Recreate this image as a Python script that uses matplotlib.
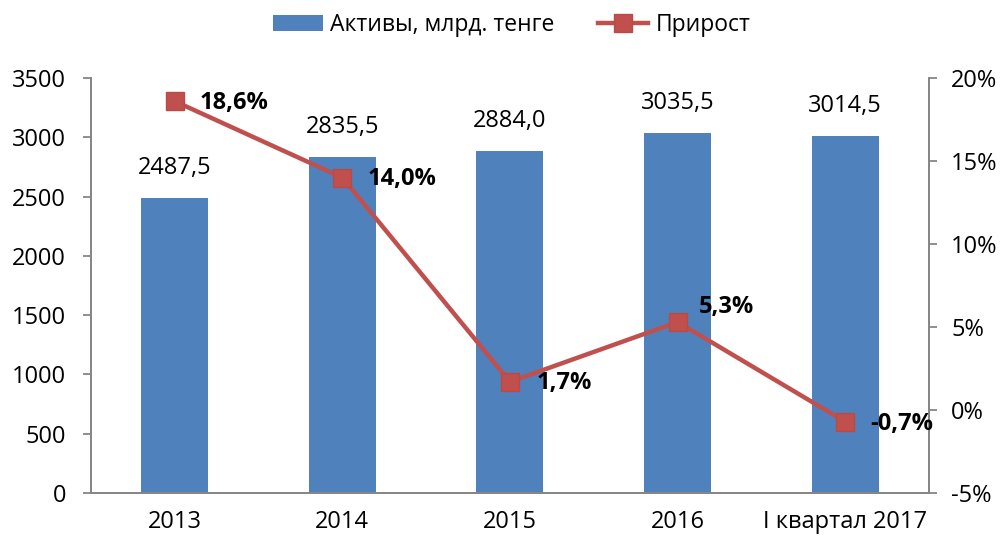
import numpy as np
import matplotlib.pyplot as plt
from matplotlib.ticker import FuncFormatter

categories = ['2013', '2014', '2015', '2016', 'I квартал 2017']
assets = [2487.5, 2835.5, 2884.0, 3035.5, 3014.5]
growth = [18.6, 14.0, 1.7, 5.3, -0.7]

bar_color = '#4F81BD'
line_color = '#C0504D'
axis_gray = '#868686'

plt.rcParams['font.family'] = ['Open Sans', 'DejaVu Sans']
plt.rcParams['font.size'] = 17

fig = plt.figure(figsize=(10.03, 5.38), dpi=100)
ax = fig.add_axes([0.0907, 0.0836, 0.8355, 0.7714])
ax2 = ax.twinx()

x = np.arange(len(categories))
bars = ax.bar(x, assets, width=0.4, color=bar_color, label='Активы, млрд. тенге', zorder=2)
ax.set_xlim(-0.5, len(categories) - 0.5)
ax.set_ylim(0, 3500)
ax.set_yticks(np.arange(0, 3501, 500))
ax.set_xticks(x)
ax.set_xticklabels(categories)

# bar value labels
for xi, v in zip(x, assets):
    ax.annotate(f"{v:.1f}".replace('.', ','), (xi, v), xytext=(0, 13),
                textcoords='offset points', ha='center', va='bottom', fontsize=17)

line, = ax2.plot(x, growth, color=line_color, lw=3.2, marker='s', markersize=13,
                 markerfacecolor=line_color, markeredgecolor='#B94A47', label='Прирост', zorder=3)
ax2.set_ylim(-5, 20)
ax2.set_yticks(np.arange(-5, 21, 5))
ax2.yaxis.set_major_formatter(FuncFormatter(lambda v, p: f"{v:.0f}%"))

# growth labels, right of markers
offsets = [(18, -1), (18, -1), (19, -1), (15, 11), (18, -2)]
for xi, v, off in zip(x, growth, offsets):
    ax2.annotate(f"{v:.1f}%".replace('.', ','), (xi, v), xytext=off,
                 textcoords='offset points', ha='left', va='center',
                 fontsize=17, fontweight='bold')

for a in (ax, ax2):
    a.spines['top'].set_visible(False)
    for s in ('left', 'right', 'bottom'):
        a.spines[s].set_color(axis_gray)
        a.spines[s].set_linewidth(1.3)
    a.tick_params(axis='y', colors=axis_gray, length=6, width=1.3, labelcolor='black', labelsize=17)
ax.tick_params(axis='x', length=0, pad=12, labelsize=17)
ax.tick_params(axis='y', pad=12)
ax2.tick_params(axis='y', pad=10)

fig.legend(handles=[bars, line], labels=['Активы, млрд. тенге', 'Прирост'],
           loc='upper center', bbox_to_anchor=(0.51, 1.015), ncol=2, frameon=False,
           fontsize=16.5, handlelength=2.2, columnspacing=1.9, handletextpad=0.3)

fig.savefig('out.png', dpi=100)
